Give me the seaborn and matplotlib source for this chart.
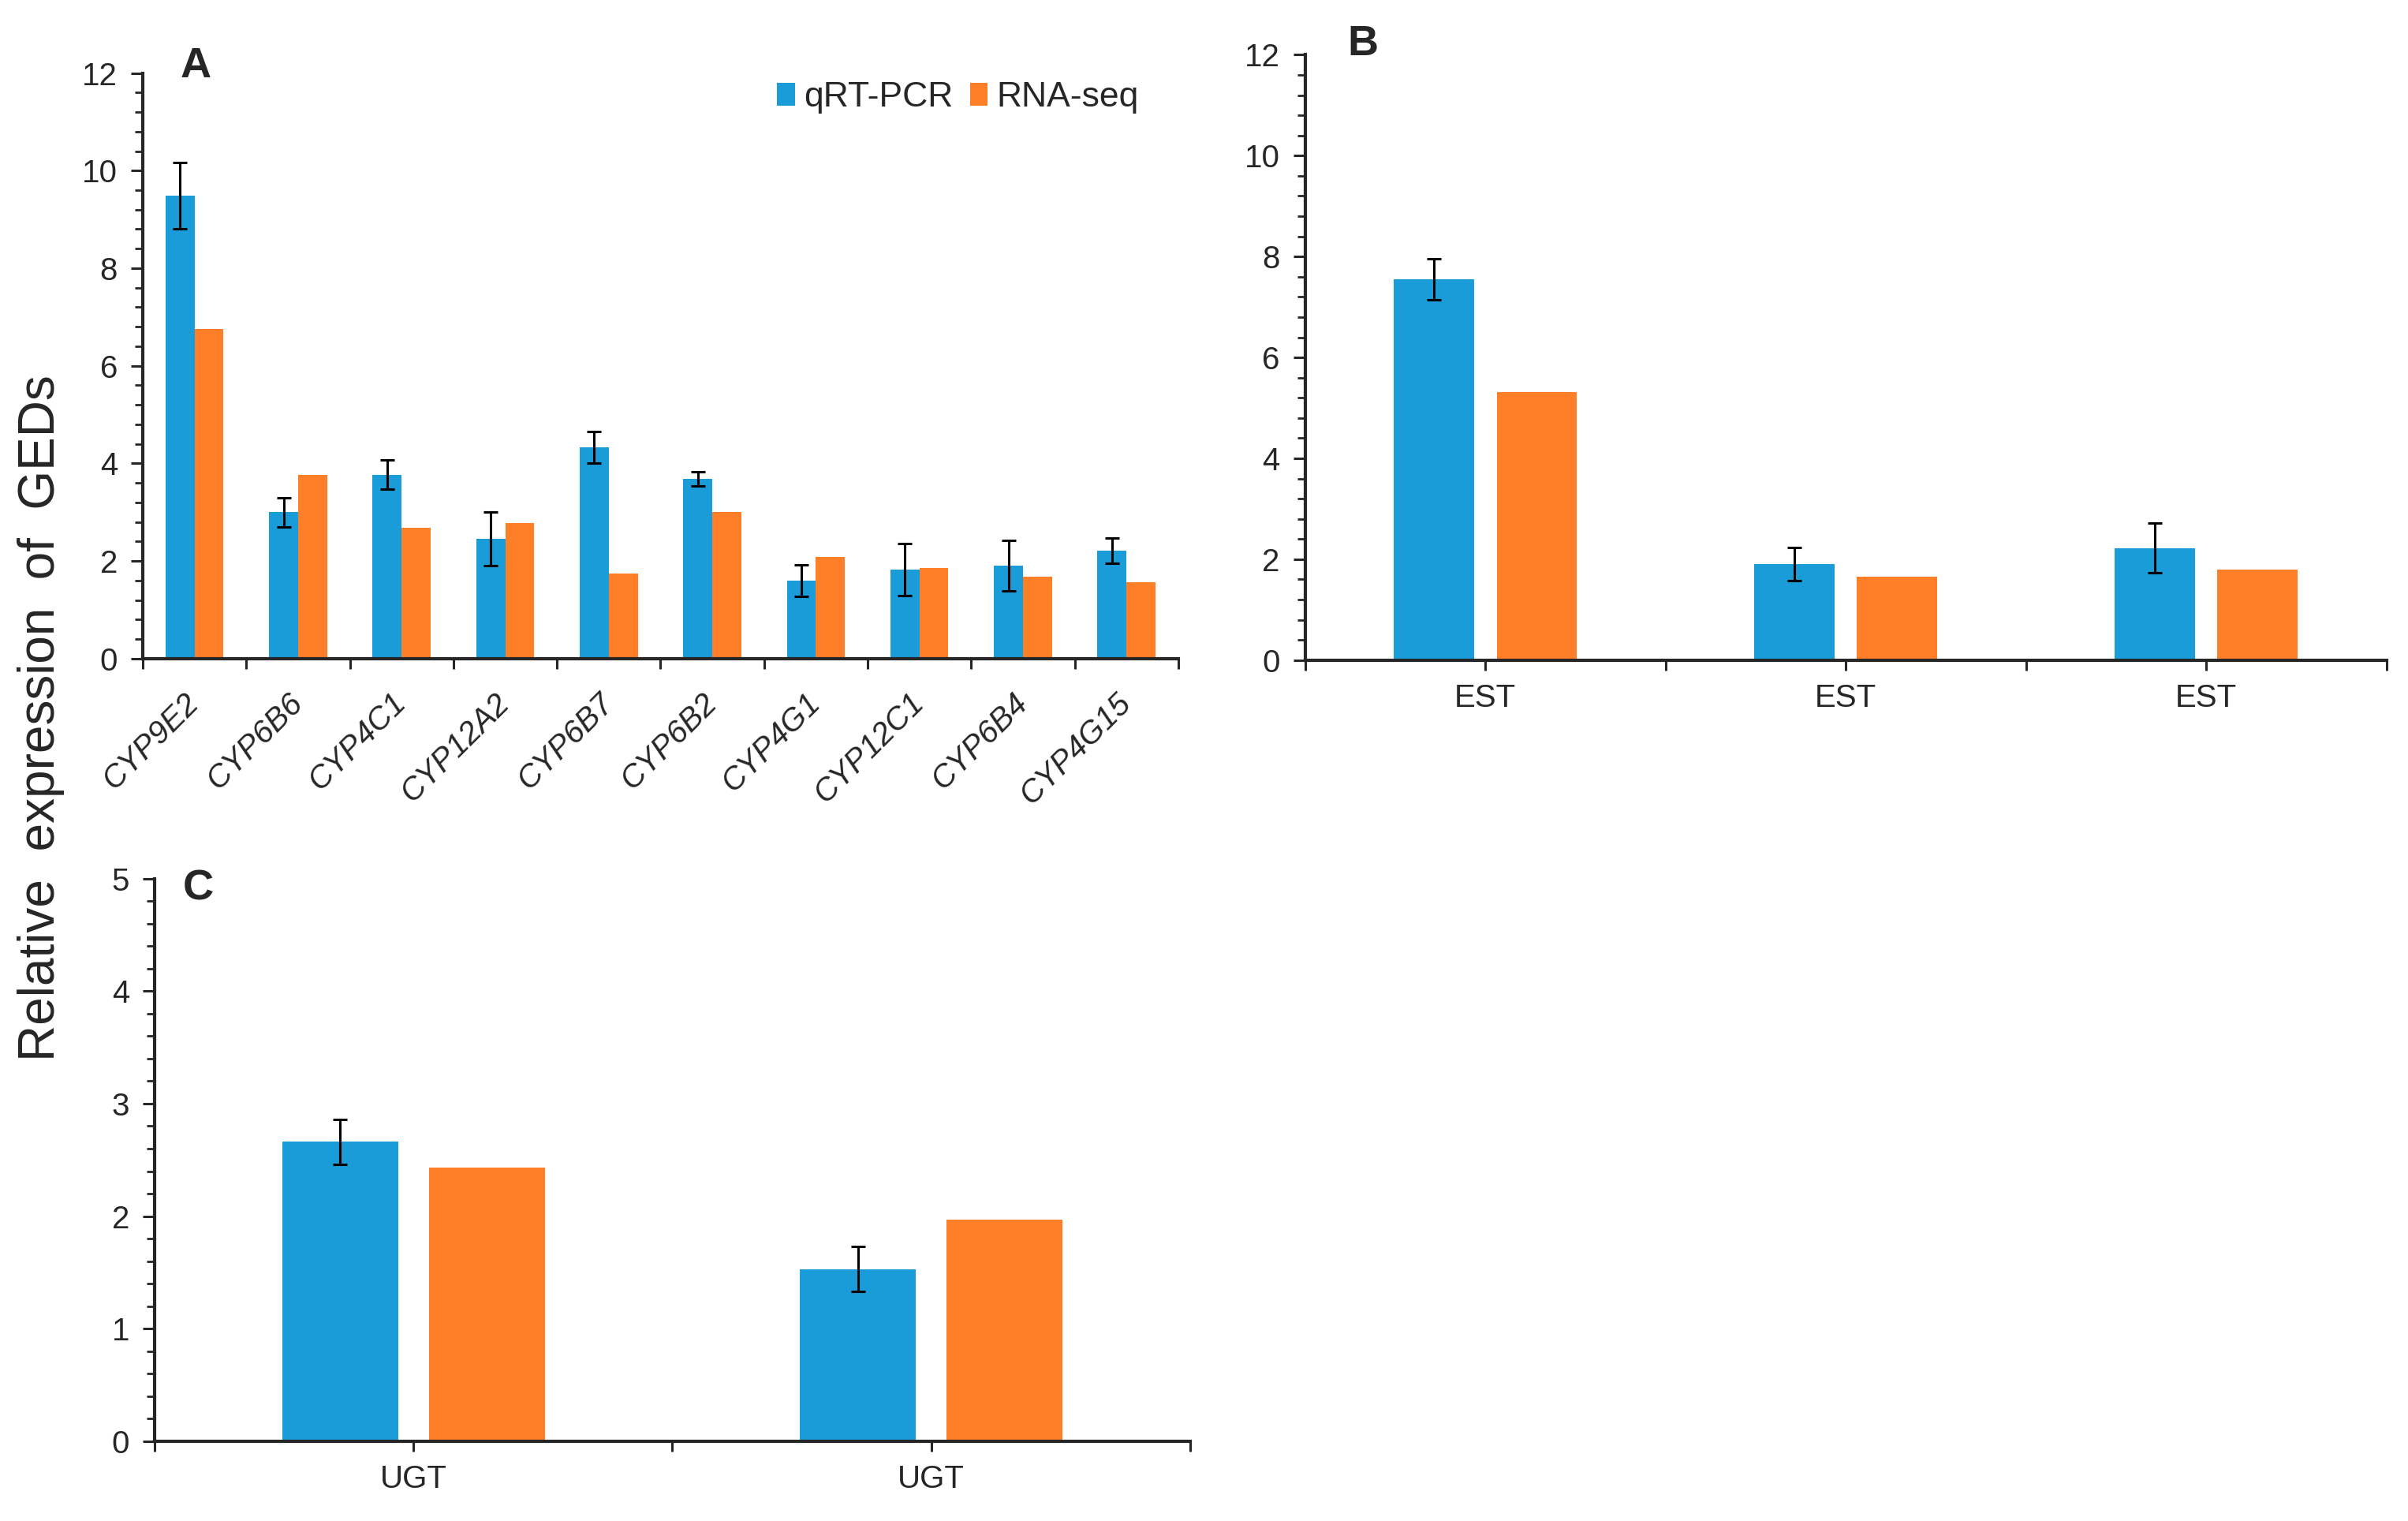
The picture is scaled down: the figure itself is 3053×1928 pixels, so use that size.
"""
qRT-PCR vs RNA-seq validation of detoxification genes (CYP, EST, UGT).
"""

import numpy as np
import pandas as pd
import matplotlib
matplotlib.use("Agg")
import matplotlib.pyplot as plt
from matplotlib.ticker import MultipleLocator, FixedLocator
import seaborn as sns

METHODS = ["qRT-PCR", "RNA-seq"]
COLORS = {"qRT-PCR": "#1a9cd8", "RNA-seq": "#fe7f27"}

# Panel A: cytochrome P450 genes
cyp_genes = ["CYP9E2", "CYP6B6", "CYP4C1", "CYP12A2", "CYP6B7",
             "CYP6B2", "CYP4G1", "CYP12C1", "CYP6B4", "CYP4G15"]
cyp_qpcr = [9.48, 3.00, 3.77, 2.46, 4.33, 3.68, 1.60, 1.82, 1.90, 2.21]
cyp_qpcr_err = [0.68, 0.30, 0.30, 0.55, 0.32, 0.15, 0.32, 0.53, 0.52, 0.26]
cyp_rnaseq = [6.75, 3.77, 2.68, 2.78, 1.75, 3.00, 2.08, 1.86, 1.68, 1.57]

# Panel B: esterases
est_genes = ["EST", "EST", "EST"]
est_qpcr = [7.55, 1.91, 2.22]
est_qpcr_err = [0.40, 0.33, 0.49]
est_rnaseq = [5.32, 1.66, 1.80]

# Panel C: UDP-glucosyltransferases
ugt_genes = ["UGT", "UGT"]
ugt_qpcr = [2.66, 1.53]
ugt_qpcr_err = [0.20, 0.20]
ugt_rnaseq = [2.43, 1.97]

TICK_FS = 29


def long_table(qpcr, rnaseq):
    n = len(qpcr)
    return pd.DataFrame({
        "pos": list(range(n)) * 2,
        "method": [METHODS[0]] * n + [METHODS[1]] * n,
        "value": list(qpcr) + list(rnaseq),
    })


def draw_panel(ax, labels, qpcr, err, rnaseq, width, gap, ymax, major, minor,
               letter, letter_xy, rotated=False, legend=False):
    df = long_table(qpcr, rnaseq)
    sns.barplot(data=df, x="pos", y="value", hue="method", hue_order=METHODS,
                palette=COLORS, width=width, gap=gap, saturation=1,
                errorbar=None, linewidth=0, legend=legend, ax=ax)

    # error bars on the qRT-PCR bars
    bars = ax.containers[0]
    xs = [b.get_x() + b.get_width() / 2 for b in bars]
    hs = [b.get_height() for b in bars]
    ax.errorbar(xs, hs, yerr=err, fmt="none", ecolor="black", elinewidth=2.2,
                capsize=6.5, capthick=2.2, zorder=3)

    n = len(labels)
    ax.set_xlim(-0.5, n - 0.5)
    ax.set_ylim(0, ymax)
    ax.set_xlabel("")
    ax.set_ylabel("")
    ax.yaxis.set_major_locator(MultipleLocator(major))
    ax.yaxis.set_minor_locator(MultipleLocator(minor))
    ax.xaxis.set_minor_locator(FixedLocator(np.arange(-0.5, n, 1.0)))
    ax.set_xticks(range(n))

    ax.tick_params(axis="y", which="major", direction="out", length=11,
                   width=2.2, labelsize=TICK_FS, pad=12)
    ax.tick_params(axis="y", which="minor", direction="out", length=7, width=2.0)
    ax.tick_params(axis="x", which="minor", direction="out", length=9, width=2.2)
    if rotated:
        ax.set_xticklabels(labels, rotation=45, ha="right", va="center",
                           rotation_mode="anchor", fontstyle="italic")
        ax.tick_params(axis="x", which="major", length=0, labelsize=TICK_FS, pad=36)
    else:
        ax.set_xticklabels(labels)
        ax.tick_params(axis="x", which="major", direction="out", length=9,
                       width=2.2, labelsize=TICK_FS, pad=12)

    sns.despine(ax=ax)
    for side in ("left", "bottom"):
        ax.spines[side].set_linewidth(3.0)

    ax.text(letter_xy[0], letter_xy[1], letter, transform=ax.transAxes,
            fontsize=39, fontweight="bold", ha="left", va="center")

    if legend:
        old = ax.get_legend()
        handles = old.legend_handles
        texts = [t.get_text() for t in old.get_texts()]
        old.remove()
        ax.legend(handles, texts, loc="center right", bbox_to_anchor=(0.962, 0.958),
                  ncol=2, frameon=False, fontsize=32, handlelength=0.5,
                  handleheight=0.6, handletextpad=0.25, columnspacing=0.5,
                  borderpad=0, borderaxespad=0)


def main():
    sns.set_style("ticks")
    plt.rcParams["font.family"] = ["Liberation Sans", "DejaVu Sans"]

    fig = plt.figure(figsize=(30.53, 19.28), dpi=100)
    ax_a = fig.add_axes([0.0593, 0.567, 0.430, 0.385])
    ax_b = fig.add_axes([0.542, 0.566, 0.449, 0.398])
    ax_c = fig.add_axes([0.0642, 0.0524, 0.430, 0.370])

    draw_panel(ax_a, cyp_genes, cyp_qpcr, cyp_qpcr_err, cyp_rnaseq,
               width=0.56, gap=0, ymax=12, major=2, minor=0.4,
               letter="A", letter_xy=(0.036, 1.012), rotated=True, legend=True)
    draw_panel(ax_b, est_genes, est_qpcr, est_qpcr_err, est_rnaseq,
               width=0.57, gap=0.22, ymax=12, major=2, minor=0.4,
               letter="B", letter_xy=(0.039, 1.017))
    draw_panel(ax_c, ugt_genes, ugt_qpcr, ugt_qpcr_err, ugt_rnaseq,
               width=0.567, gap=0.21, ymax=5, major=1, minor=0.2,
               letter="C", letter_xy=(0.027, 0.982))

    fig.text(0.017, 0.528, "Relative  expression  of  GEDs", rotation=90,
             ha="center", va="center", fontsize=46)

    fig.savefig("out.png", dpi=100)
    plt.close(fig)


if __name__ == "__main__":
    main()
